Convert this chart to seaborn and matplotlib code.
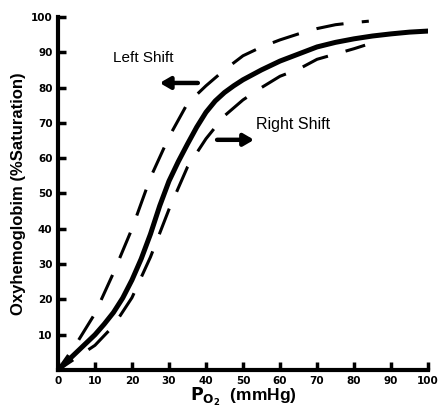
import pandas as pd
import seaborn as sns
import matplotlib.pyplot as plt

# values
po2_normal = [0, 2.5, 5, 7.5, 10, 12.5, 15, 17.5, 20, 22.5, 25, 27.5, 30, 32.5, 35, 37.5,
              40, 42.5, 45, 47.5, 50, 55, 60, 65, 70, 75, 80, 85, 90, 95, 100]
sat_normal = [0, 2.5, 5, 7.5, 10, 13, 16.3, 20.4, 25.5, 31.5, 38.5, 46.5, 53.5, 59, 64, 68.8,
              73, 76.2, 78.6, 80.5, 82.2, 85, 87.5, 89.5, 91.5, 92.8, 93.8, 94.6, 95.2, 95.7, 96]

po2_left = [0, 5, 10, 15, 20, 25, 30, 35, 40, 45, 50, 55, 60, 65, 70, 75, 80, 84]
sat_left = [0, 7.5, 16, 27.5, 40, 54.5, 66, 75.5, 80.5, 85, 89, 91.5, 93.5, 95.2, 96.7, 97.8, 98.4, 98.8]

po2_right = [0, 5, 10, 15, 20, 25, 30, 35, 40, 45, 50, 55, 60, 65, 70, 75, 80, 83]
sat_right = [0, 3.5, 7, 12.5, 20.5, 32, 45.5, 57.5, 65.5, 72, 76.5, 80, 83.2, 85.2, 88, 89.5, 91, 92]

x_ticks = [0, 10, 20, 30, 40, 50, 60, 70, 80, 90, 100]
y_ticks = [10, 20, 30, 40, 50, 60, 70, 80, 90, 100]

sns.set_style("ticks", {'axes.edgecolor': 'black', 'text.color': 'black',
                        'xtick.color': 'black', 'ytick.color': 'black',
                        'axes.labelcolor': 'black'})
plt.rcParams['font.family'] = ['Liberation Sans', 'DejaVu Sans']

fig, ax = plt.subplots(figsize=(4.39, 4.13), dpi=100)
fig.subplots_adjust(left=0.132, right=0.975, bottom=0.104, top=0.959)

df_n = pd.DataFrame({'po2': po2_normal, 'sat': sat_normal})
df_l = pd.DataFrame({'po2': po2_left, 'sat': sat_left})
df_r = pd.DataFrame({'po2': po2_right, 'sat': sat_right})

sns.lineplot(data=df_n, x='po2', y='sat', ax=ax, color='black', linewidth=3.6,
             solid_joinstyle='round')
sns.lineplot(data=df_l, x='po2', y='sat', ax=ax, color='black', linewidth=2.2,
             dashes=False, linestyle=(3, (9, 6)))
sns.lineplot(data=df_r, x='po2', y='sat', ax=ax, color='black', linewidth=2.2,
             dashes=False, linestyle=(3, (9, 6)))

ax.set_xlim(0, 100)
ax.set_ylim(0, 100)
ax.set_xticks(x_ticks)
ax.set_yticks(y_ticks)
ax.tick_params(direction='in', length=6, width=2.5, pad=4, colors='black')
for lbl in ax.get_xticklabels() + ax.get_yticklabels():
    lbl.set_fontweight('heavy')
    lbl.set_family('DejaVu Sans')
    lbl.set_fontsize(7.5)

sns.despine(ax=ax)
ax.spines['left'].set_linewidth(3)
ax.spines['bottom'].set_linewidth(3)
ax.spines['left'].set_color('black')
ax.spines['bottom'].set_color('black')

ax.set_xlabel(r'$\mathbf{P_{O_2}}$  (mmHg)', fontsize=12.5, fontweight='bold',
              labelpad=0, color='black')
ax.set_ylabel('Oxyhemoglobim (%Saturation)', fontsize=12, fontweight='bold',
              labelpad=3, color='black')

ax.text(15, 88.5, 'Left Shift', fontsize=11, va='center', ha='left', color='black')
ax.text(53.5, 69.5, 'Right Shift', fontsize=11.5, va='center', ha='left', color='black')

ax.annotate('', xy=(27.5, 81.3), xytext=(37.8, 81.3),
            arrowprops=dict(arrowstyle='-|>,head_length=0.6,head_width=0.35',
                            color='black', lw=3.2, shrinkA=0, shrinkB=0))
ax.annotate('', xy=(53, 65.2), xytext=(43, 65.2),
            arrowprops=dict(arrowstyle='-|>,head_length=0.6,head_width=0.35',
                            color='black', lw=3.2, shrinkA=0, shrinkB=0))

plt.savefig('out.png', dpi=100)
